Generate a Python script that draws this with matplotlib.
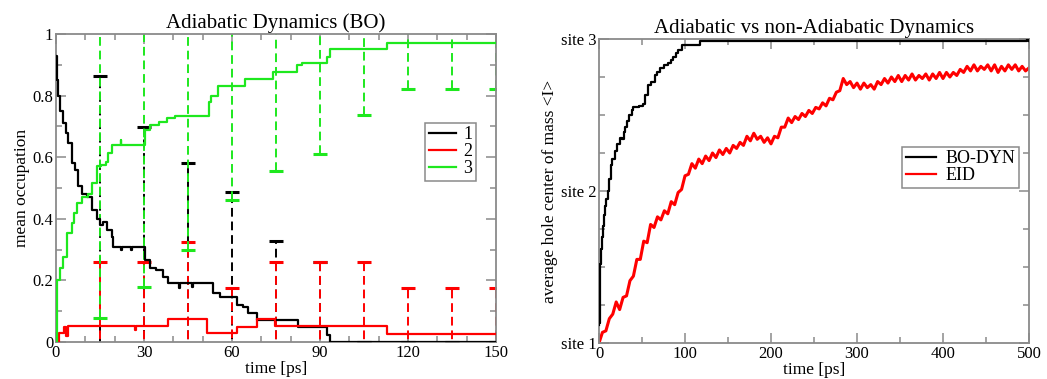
import numpy as np
import matplotlib
matplotlib.use("Agg")
import matplotlib.pyplot as plt
from matplotlib.ticker import MultipleLocator

plt.rcParams['font.family'] = ['Liberation Serif', 'DejaVu Serif']

# ---------------- left panel: mean occupation of the three sites ----------------
occ1_t = [0, 0.2, 0.5, 0.8, 1.5, 2.5, 3.3, 4.2, 5.3, 6.5, 7.6, 9, 10.5, 12.2, 13.9, 15, 16, 17.3, 19, 19.5,
          22.0, 22.4, 25.5, 25.8, 29.5, 30.3, 32, 34, 36.6, 38.3, 42.0, 42.3, 46.5, 46.8, 51.4, 53.6, 55.9, 60,
          61.6, 63.9, 65.6, 68.4, 82.6, 91.5, 92.5, 93.5, 150]
occ1_v = [0.93, 0.905, 0.85, 0.80, 0.75, 0.71, 0.68, 0.645, 0.58, 0.56, 0.505, 0.48, 0.47, 0.43, 0.40, 0.38, 0.39, 0.364, 0.34, 0.31,
          0.30, 0.31, 0.30, 0.31, 0.31, 0.266, 0.24, 0.235, 0.212, 0.19, 0.175, 0.19, 0.178, 0.19, 0.19, 0.158, 0.147, 0.147,
          0.12, 0.115, 0.093, 0.071, 0.05, 0.05, 0.023, 0.0, 0.0]

occ2_t = [0, 1.1, 2.8, 3.5, 4.0, 27.0, 27.3, 38.3, 51.4, 61.6, 68.4, 74.5, 112.7, 150]
occ2_v = [0.0, 0.03, 0.05, 0.02, 0.052, 0.04, 0.052, 0.074, 0.028, 0.05, 0.074, 0.052, 0.026, 0.026]

occ3_t = [0, 0.2, 0.45, 1.2, 2.5, 3.6, 5.3, 6.2, 7.0, 8.8, 11, 12.2, 13.9, 15.5, 17, 17.8, 19, 22.0, 22.3, 29.3,
          30.3, 32, 35, 37.7, 40.6, 51.4, 52.2, 53, 55.3, 64.4, 74.1, 82, 84, 91.1, 92.3, 93.5, 112.7, 150]
occ3_v = [0.0, 0.12, 0.2, 0.24, 0.277, 0.353, 0.385, 0.42, 0.45, 0.472, 0.48, 0.515, 0.57, 0.575, 0.585, 0.613, 0.64, 0.655, 0.64, 0.64,
          0.688, 0.705, 0.715, 0.726, 0.734, 0.734, 0.78, 0.80, 0.83, 0.853, 0.878, 0.90, 0.905, 0.905, 0.926, 0.95, 0.972, 0.972]

err_t = [15, 30, 45, 60, 75, 90, 105, 120, 135, 150]
err1 = [0.484, 0.389, 0.39, 0.341, 0.258, 0.209, 0.0, 0.0, 0.0, 0.0]
err2 = [0.207, 0.207, 0.252, 0.148, 0.207, 0.207, 0.207, 0.15, 0.15, 0.15]
err3 = [0.493, 0.46, 0.434, 0.369, 0.322, 0.296, 0.213, 0.152, 0.152, 0.152]

# ---------------- right panel: hole centre of mass ----------------
bo_t = [0, 0.4, 0.8, 1.2, 2, 3, 4.3, 5.5, 7, 8.5, 10, 11.5, 13.5, 15.5, 18.5, 21, 24.5, 27, 28.5, 30.5,
        32, 35, 38, 40, 46, 51.5, 54, 57.5, 61, 65, 68, 71, 76, 80.5, 84, 86.5, 90, 92, 96, 116,
        117.5, 496, 498, 500]
bo_v = [1.12, 1.13, 1.35, 1.52, 1.62, 1.70, 1.77, 1.84, 1.90, 1.95, 2.0, 2.08, 2.17, 2.21, 2.26, 2.31, 2.35, 2.34, 2.39, 2.42,
        2.46, 2.50, 2.53, 2.555, 2.56, 2.57, 2.63, 2.70, 2.72, 2.76, 2.78, 2.81, 2.83, 2.84, 2.86, 2.88, 2.91, 2.93, 2.96, 2.96,
        2.987, 2.987, 3.0, 2.99]

eid_t = np.arange(0, 501, 4)
eid_v = [1.00, 1.07, 1.08, 1.16, 1.19, 1.27, 1.22, 1.30, 1.31, 1.41,
         1.44, 1.55, 1.55, 1.67, 1.66, 1.78, 1.76, 1.83, 1.81, 1.87,
         1.85, 1.93, 1.91, 1.99, 2.01, 2.10, 2.11, 2.18, 2.15, 2.21,
         2.18, 2.23, 2.20, 2.25, 2.22, 2.27, 2.24, 2.28, 2.25, 2.30,
         2.28, 2.32, 2.30, 2.36, 2.33, 2.38, 2.34, 2.36, 2.32, 2.35,
         2.31, 2.36, 2.35, 2.42, 2.42, 2.48, 2.45, 2.49, 2.47, 2.51,
         2.49, 2.53, 2.51, 2.55, 2.54, 2.58, 2.56, 2.61, 2.60, 2.65,
         2.66, 2.74, 2.70, 2.72, 2.68, 2.71, 2.67, 2.71, 2.68, 2.70,
         2.67, 2.72, 2.70, 2.74, 2.71, 2.75, 2.72, 2.76, 2.72, 2.76,
         2.73, 2.77, 2.73, 2.76, 2.74, 2.77, 2.73, 2.77, 2.74, 2.78,
         2.74, 2.78, 2.75, 2.78, 2.76, 2.80, 2.78, 2.82, 2.79, 2.83,
         2.79, 2.82, 2.80, 2.83, 2.79, 2.83, 2.78, 2.82, 2.79, 2.83,
         2.80, 2.83, 2.79, 2.82, 2.79, 2.81]

BLACK, RED, GREEN = '#000000', '#ff0000', '#1ee81e'
FRAME = '#8a8a8a'


def step_value(ts, vs, t):
    idx = np.searchsorted(ts, t, side='right') - 1
    return vs[idx]


def style_axes(ax):
    for sp in ax.spines.values():
        sp.set_color(FRAME)
        sp.set_linewidth(1.3)
    ax.tick_params(which='both', direction='in', top=True, right=True,
                   color=FRAME, width=1.1, labelsize=12, pad=2)
    ax.tick_params(which='major', length=7)
    ax.tick_params(which='minor', length=4)


fig = plt.figure(figsize=(10.47, 3.79), dpi=100)
W, H = 1047, 379
axL = fig.add_axes([56 / W, (H - 342) / H, 440 / W, 308 / H])
axR = fig.add_axes([599 / W, (H - 343) / H, 430 / W, 304 / H])

# left panel
series = [(occ1_t, occ1_v, err1, BLACK, '1'),
          (occ2_t, occ2_v, err2, RED, '2'),
          (occ3_t, occ3_v, err3, GREEN, '3')]
for ts, vs, es, c, lab in series:
    axL.plot(ts, vs, drawstyle='steps-post', color=c, lw=1.6, label=lab, zorder=3)
for ts, vs, es, c, lab in series:
    centers = [step_value(ts, vs, t) for t in err_t]
    eb = axL.errorbar(err_t, centers, yerr=es, fmt='none', ecolor=c,
                      elinewidth=1.4, capsize=4.8, capthick=2.2, zorder=2)
    for lc in eb.lines[2]:
        lc.set_linestyle((0, (4.5, 2.5)))

axL.set_xlim(0, 150)
axL.set_ylim(0, 1)
axL.xaxis.set_major_locator(MultipleLocator(30))
axL.xaxis.set_minor_locator(MultipleLocator(10))
axL.yaxis.set_minor_locator(MultipleLocator(0.1))
axL.set_yticks([0, 0.2, 0.4, 0.6, 0.8, 1.0], ['0', '0.2', '0.4', '0.6', '0.8', '1'])
style_axes(axL)
axL.set_title('Adiabatic Dynamics (BO)', fontsize=15, pad=4)
axL.set_xlabel('time [ps]', fontsize=12.5, labelpad=0.5)
axL.set_ylabel('mean occupation', fontsize=12.5, labelpad=2)
legL = axL.legend(loc='upper left', bbox_to_anchor=(0.839, 0.712), borderaxespad=0,
                  fontsize=13, handlelength=1.5, handletextpad=0.4, labelspacing=0.0,
                  borderpad=0.2, fancybox=False, framealpha=1, edgecolor=FRAME)
legL.get_frame().set_linewidth(1.1)

# right panel
axR.plot(bo_t, bo_v, drawstyle='steps-post', color=BLACK, lw=1.6, label='BO-DYN', zorder=3)
axR.plot(eid_t, eid_v, color=RED, lw=2.2, label='EID', zorder=2)
axR.set_xlim(0, 500)
axR.set_ylim(1, 3)
axR.xaxis.set_major_locator(MultipleLocator(100))
axR.xaxis.set_minor_locator(MultipleLocator(50))
axR.set_yticks([1, 2, 3], ['site 1', 'site 2', 'site 3'])
axR.yaxis.set_minor_locator(MultipleLocator(0.25))
style_axes(axR)
axR.set_title('Adiabatic vs non-Adiabatic Dynamics', fontsize=15, pad=4)
axR.set_xlabel('time [ps]', fontsize=12.5, labelpad=0)
axR.set_ylabel('average hole center of mass <I>', fontsize=12.5, labelpad=2)
legR = axR.legend(loc='upper left', bbox_to_anchor=(0.705, 0.646), borderaxespad=0,
                  fontsize=13, handlelength=1.7, handletextpad=0.5, labelspacing=0.0,
                  borderpad=0.2, fancybox=False, framealpha=1, edgecolor=FRAME)
legR.get_frame().set_linewidth(1.1)
for line in legR.get_lines():
    line.set_linewidth(1.6)

fig.savefig('out.png', dpi=100)
